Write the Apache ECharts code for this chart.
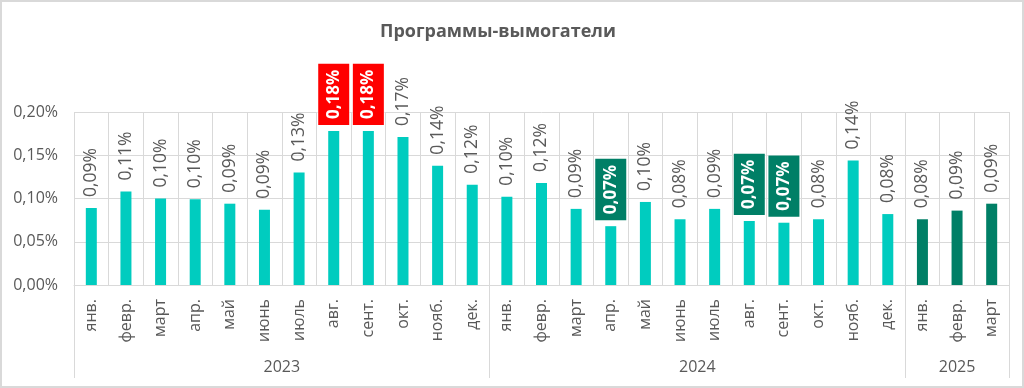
<!DOCTYPE html>
<html>
<head>
<meta charset="utf-8">
<script src="https://cdn.jsdelivr.net/npm/echarts@6/dist/echarts.min.js"></script>
<style>
html,body{margin:0;padding:0;background:#fff;}
#wrap{position:relative;width:1024px;height:388px;}
#chart{width:1024px;height:388px;}
#frame{position:absolute;left:0;top:0;width:1024px;height:388px;border:2px solid #d9d9d9;box-sizing:border-box;pointer-events:none;}
</style>
</head>
<body>
<div id="wrap"><div id="chart"></div><div id="frame"></div></div>
<script>
// ---- data ----
const title = 'Программы-вымогатели';
const months = ['янв.','февр.','март','апр.','май','июнь','июль','авг.','сент.','окт.','нояб.','дек.',
                'янв.','февр.','март','апр.','май','июнь','июль','авг.','сент.','окт.','нояб.','дек.',
                'янв.','февр.','март'];
const years = ['2023','2024','2025'];
const yearCounts = [12, 12, 3];
const values2023 = [0.089, 0.108, 0.100, 0.099, 0.094, 0.087, 0.130, 0.178, 0.178, 0.171, 0.138, 0.116];
const values2024 = [0.102, 0.118, 0.088, 0.068, 0.096, 0.076, 0.088, 0.074, 0.072, 0.076, 0.144, 0.082];
const values2025 = [0.076, 0.086, 0.094];
const yTicks = [0, 0.05, 0.10, 0.15, 0.20];
const redLabelIdx = [7, 8];          // peaks highlighted in red
const greenLabelIdx = [15, 19, 20];  // lows highlighted in dark green
const darkBarIdx = [24, 25, 26];     // 2025 bars

// ---- build ----
const values = values2023.concat(values2024, values2025);
const fmt = v => v.toFixed(2).replace('.', ',') + '%';
const FONT = 'Open Sans';
const GRAY = '#595959';
const LINE = '#d9d9d9';
const TEAL = '#00ccbf';
const DARK = '#007f66';

const data = values.map((v, i) => {
  const item = { value: v, itemStyle: { color: darkBarIdx.includes(i) ? DARK : TEAL } };
  let bg = null;
  if (redLabelIdx.includes(i)) bg = '#ff0000';
  if (greenLabelIdx.includes(i)) bg = DARK;
  if (bg) {
    item.label = {
      backgroundColor: bg, color: '#ffffff', fontWeight: 'bold', fontSize: 17,
      padding: [7, 6, 7, 6], lineHeight: 17, distance: 6,
      borderColor: 'rgba(255,255,255,0.6)', borderWidth: 1
    };
  }
  return item;
});

// year separators and centers
const sep = [0]; const centers = [];
yearCounts.forEach(c => { const s = sep[sep.length - 1]; centers.push(s + c / 2); sep.push(s + c); });

const chart = echarts.init(document.getElementById('chart'), null, { renderer: 'canvas' });
chart.setOption({
  animation: false,
  backgroundColor: '#ffffff',
  textStyle: { fontFamily: FONT },
  title: {
    text: title, left: 380, top: 23, padding: 0,
    textStyle: { fontFamily: FONT, fontSize: 18, fontWeight: 'bold', color: GRAY }
  },
  grid: { left: 74, right: 15, top: 112, bottom: 103, containLabel: false },
  xAxis: [
    {
      type: 'category', data: months, boundaryGap: true,
      axisLine: { show: true, lineStyle: { color: LINE, width: 1 } },
      axisTick: { show: false },
      splitLine: { show: true, interval: 0, lineStyle: { color: LINE, width: 1 } },
      axisLabel: { interval: 0, rotate: 90, margin: 14, fontSize: 16, color: GRAY, fontFamily: FONT }
    },
    {
      type: 'value', position: 'bottom', min: 0, max: sep[sep.length - 1],
      axisLine: { show: false },
      splitLine: { show: false },
      axisTick: { show: true, customValues: sep, length: 93, lineStyle: { color: LINE, width: 1 } },
      axisLabel: {
        customValues: centers, margin: 74, fontSize: 16, color: GRAY, fontFamily: FONT,
        formatter: v => { const k = centers.indexOf(v); return k >= 0 ? years[k] : ''; }
      }
    }
  ],
  yAxis: {
    type: 'value', min: yTicks[0], max: yTicks[yTicks.length - 1], interval: yTicks[1] - yTicks[0],
    axisLine: { show: false }, axisTick: { show: false },
    splitLine: { show: true, lineStyle: { color: LINE, width: 1 } },
    axisLabel: { margin: 16, fontSize: 16, color: GRAY, fontFamily: FONT, formatter: v => fmt(v) }
  },
  series: [{
    type: 'bar', xAxisIndex: 0, data: data, barWidth: 11,
    label: {
      show: true, position: 'top', rotate: 90, align: 'left', verticalAlign: 'middle',
      distance: 11, fontSize: 17.5, color: GRAY, fontFamily: FONT,
      formatter: p => fmt(p.value)
    }
  }]
});
</script>
</body>
</html>
